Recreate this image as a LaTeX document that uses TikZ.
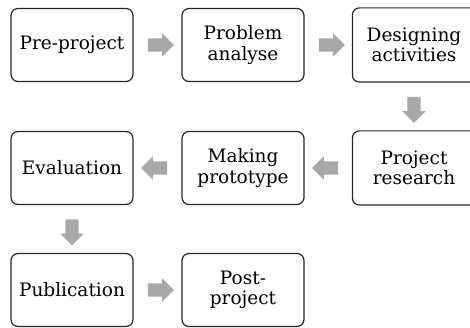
\documentclass[tikz,border=0pt]{standalone}
\usepackage{fontspec}
\setmainfont{DejaVu Serif}
\usetikzlibrary{calc,shapes.arrows}
\definecolor{stepgray}{HTML}{A8A8A8}
\tikzset{
	frame/.style={draw=black!85, line width=1.2pt, rounded corners=7pt},
	phase/.style={
			frame, minimum width=122pt, minimum height=73pt, inner sep=2pt,
			align=center, font=\fontsize{18.5}{20.5}\selectfont
		},
	blockarrow/.style={
			single arrow, fill=stepgray, draw=none, inner sep=6.5pt,
			single arrow head extend=5pt, minimum height=26pt,
			shape border rotate=#1
		}
}

\begin{document}
\begin{tikzpicture}[x=1pt, y=1pt]
			\useasboundingbox (0, 0) rectangle (470, -328);
			\clip (0, 0) rectangle (470, -328);

			\node[phase] (pre)     at (72, -45)   {Pre-project};
			\node[phase] (problem) at (243, -45)  {Problem\\analyse};
			\node[phase, draw=none] (design)   at (414, -45)  {Designing\\activities};
			\node[phase, draw=none] (research) at (414, -168) {Project\\research};
			\node[phase] (proto)   at (243, -168) {Making\\prototype};
			\node[phase] (eval)    at (72, -168)  {Evaluation};
			\node[phase] (publ)    at (72, -290)  {Publication};
			\node[phase] (post)    at (243, -290) {Post-\\project};

			% the right column runs off the page edge
			\draw[frame] (design.north west) rectangle ($(design.south east)+(20, 0)$);
			\draw[frame] (research.north west) rectangle ($(research.south east)+(20, 0)$);

			\node[blockarrow=0]   at ($(pre.east)!0.5!(problem.west)$) {};
			\node[blockarrow=0]   at ($(problem.east)!0.5!(design.west)$) {};
			\node[blockarrow=270] at ($(design.south)!0.5!(research.north)$) {};
			\node[blockarrow=180] at ($(research.west)!0.5!(proto.east)$) {};
			\node[blockarrow=180] at ($(proto.west)!0.5!(eval.east)$) {};
			\node[blockarrow=270] at ($(eval.south)!0.5!(publ.north)$) {};
			\node[blockarrow=0]   at ($(publ.east)!0.5!(post.west)$) {};
		\end{tikzpicture}
\end{document}
